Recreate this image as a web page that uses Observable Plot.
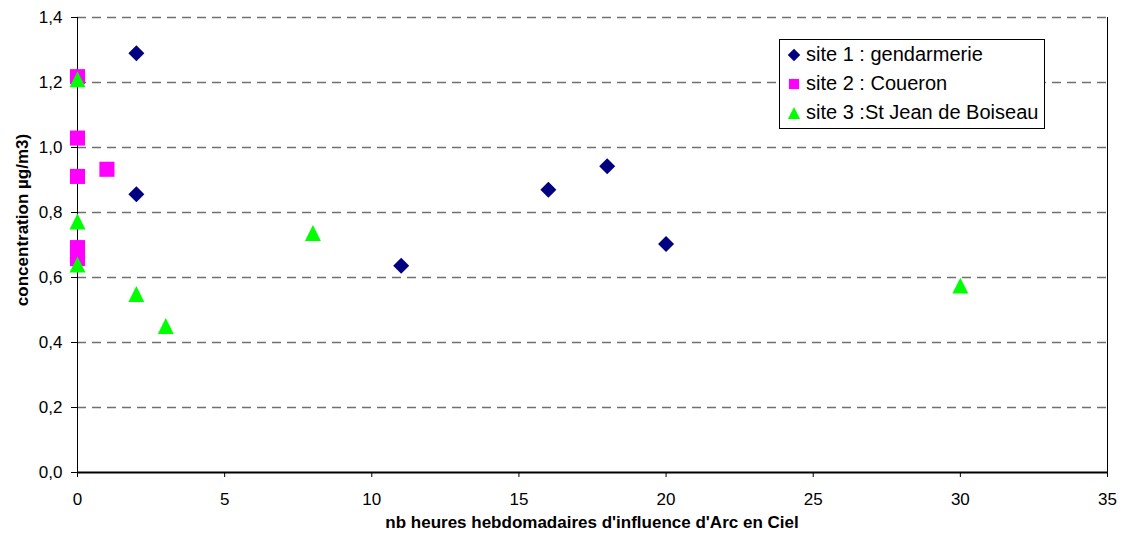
<!DOCTYPE html>
<html><head><meta charset="utf-8">
<script src="https://cdn.jsdelivr.net/npm/d3@7"></script>
<script src="https://cdn.jsdelivr.net/npm/@observablehq/plot@0.6"></script>
<style>
body{margin:0;background:#fff;font-family:"Liberation Sans",Arial,sans-serif}
#wrap{position:relative;width:1125px;height:534px;overflow:hidden}
#wrap > svg text{font-size:17px !important;font-family:"Liberation Sans",Arial,sans-serif !important;fill:#000}
#legend{position:absolute;left:779px;top:39px;height:90px;border:1px solid #000;background:#fff;box-sizing:border-box;font-size:20px;padding:0 6px 0 0}
#legend .row{display:flex;align-items:center;height:29px;white-space:nowrap}
#legend svg{margin-left:7px;margin-right:5px}
.axlab{position:absolute;font-weight:bold;font-size:17px;line-height:17px;white-space:nowrap;color:#000}
</style></head>
<body>
<div id="wrap"></div>
<script>
// Data
const seriesNames = ["site 1 : gendarmerie", "site 2 : Coueron", "site 3 :St Jean de Boiseau"];
const site1X = [0, 2, 2, 11, 16, 18, 20];
const site1Y = [0.66, 1.29, 0.856, 0.636, 0.87, 0.942, 0.703];
const site2X = [0, 0, 0, 0, 0, 1];
const site2Y = [1.218, 1.029, 0.911, 0.692, 0.658, 0.933];
const site3X = [0, 0, 0, 2, 3, 8, 30];
const site3Y = [1.21, 0.772, 0.64, 0.549, 0.451, 0.737, 0.575];
const xTicks = [0, 5, 10, 15, 20, 25, 30, 35];
const yTicks = [0, 0.2, 0.4, 0.6, 0.8, 1.0, 1.2, 1.4];
const xTitle = "nb heures hebdomadaires d'influence d'Arc en Ciel";
const yTitle = "concentration µg/m3)";

const colors = ["#000080", "#ff00ff", "#00ff00"];

// Excel-like triangle marker (as tall as it is wide), centred on its box
const excelTriangle = {
  draw(context, size) {
    const h = Math.sqrt(size) * 0.5;
    context.moveTo(0, -h);
    context.lineTo(h, h);
    context.lineTo(-h, h);
    context.closePath();
  }
};
const symbols = [d3.symbolDiamond2, d3.symbolSquare2, excelTriangle];
const radii = [7.2, 9.6, 9.0];

const toRows = (xs, ys) => xs.map((x, i) => ({x, y: ys[i]}));
const sets = [toRows(site1X, site1Y), toRows(site2X, site2Y), toRows(site3X, site3Y)];

const chart = Plot.plot({
  width: 1125, height: 534,
  marginLeft: 77, marginRight: 18, marginTop: 17, marginBottom: 62,
  x: {domain: [0, 35]},
  y: {domain: [0, 1.4]},
  style: {fontFamily: "'Liberation Sans', Arial, sans-serif", fontSize: "17px", color: "#000", background: "#fff"},
  marks: [
    Plot.ruleY(yTicks.filter(d => d > 0), {stroke: "#707070", strokeWidth: 1.3, strokeDasharray: "9,6"}),
    Plot.ruleX([35], {stroke: "#000", strokeWidth: 1}),
    Plot.axisY({ticks: yTicks, tickFormat: d => d.toFixed(1).replace(".", ","), tickSize: 6, tickPadding: 9, label: null}),
    Plot.axisX({ticks: xTicks, tickFormat: d => String(d), tickSize: 5, tickPadding: 15, label: null}),
    Plot.ruleX([0], {stroke: "#000", strokeWidth: 1}),
    Plot.ruleY([0], {stroke: "#000", strokeWidth: 2}),
    ...sets.map((data, i) => Plot.dot(data, {x: "x", y: "y", symbol: symbols[i], r: radii[i], fill: colors[i], stroke: null}))
  ]
});

const wrap = document.getElementById("wrap");
wrap.appendChild(chart);

// axis titles
const xl = document.createElement("div");
xl.className = "axlab"; xl.textContent = xTitle;
xl.style.left = "592px"; xl.style.top = "514px"; xl.style.transform = "translateX(-50%)";
wrap.appendChild(xl);
const yl = document.createElement("div");
yl.className = "axlab"; yl.textContent = yTitle;
yl.style.left = "22px"; yl.style.top = "220px"; yl.style.transform = "translate(-50%,-50%) rotate(-90deg)";
wrap.appendChild(yl);

// legend
const leg = document.createElement("div");
leg.id = "legend";
const legSizes = [100, 130, 150];
seriesNames.forEach((name, i) => {
  const row = document.createElement("div");
  row.className = "row";
  const s = d3.create("svg").attr("width", 14).attr("height", 14);
  s.append("path").attr("transform", "translate(7,7)")
    .attr("d", d3.symbol(symbols[i], legSizes[i])())
    .attr("fill", colors[i]);
  row.appendChild(s.node());
  const t = document.createElement("span");
  t.textContent = name;
  row.appendChild(t);
  leg.appendChild(row);
});
wrap.appendChild(leg);
</script>
</body></html>
